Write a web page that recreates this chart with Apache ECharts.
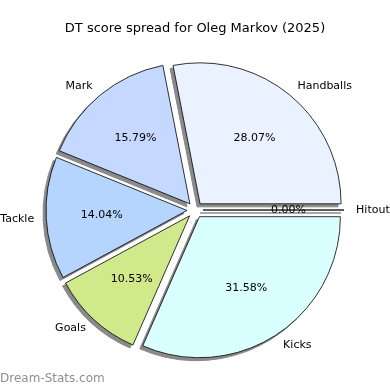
<!DOCTYPE html>
<html>
<head>
<meta charset="utf-8">
<script src="https://cdn.jsdelivr.net/npm/echarts@6/dist/echarts.min.js"></script>
<style>html,body{margin:0;padding:0;background:#fff}#c{width:390px;height:390px}</style>
</head>
<body>
<div id="c"></div>
<script>
const categories = ['Handballs', 'Mark', 'Tackle', 'Goals', 'Kicks', 'Hitout'];
const values = [16, 9, 8, 6, 18, 0];
const colors = ['#eaf1ff', '#c5d8ff', '#b5d5ff', '#d0ea8b', '#d9ffff', '#ffffff'];
const titleText = 'DT score spread for Oleg Markov (2025)';
const watermark = 'Dream-Stats.com';

const total = values.reduce((a, b) => a + b, 0);
const R = 141, CX = 195, CY = 210, OFF = 8;
const font = 'DejaVu Sans';

const pieData = categories.map((c, i) => ({
  name: c, value: values[i], selected: true,
  itemStyle: { color: colors[i] }
}));
const shadowData = categories.map((c, i) => ({
  name: c, value: values[i], selected: true
}));
const labelData = categories.map((c, i) => ({
  name: c, value: values[i], selected: true
}));

const common = {
  type: 'pie', startAngle: 0, clockwise: false,
  selectedMode: 'multiple', selectedOffset: OFF,
  avoidLabelOverlap: false, minShowLabelAngle: -1,
  emphasis: { disabled: true, scale: false }
};

const chart = echarts.init(document.getElementById('c'), null, { renderer: 'canvas' });
chart.setOption({
  animation: false,
  backgroundColor: '#ffffff',
  title: {
    text: titleText, left: 'center', top: 17,
    textStyle: { fontFamily: font, fontSize: 13, fontWeight: 'normal', color: '#000' }
  },
  graphic: [{
    type: 'text', left: 0, top: 373,
    style: { text: watermark, fontFamily: font, fontSize: 12, fontWeight: 'normal', fill: '#8f8f8f' }
  }],
  series: [
    Object.assign({}, common, {
      center: [CX - 3, CY + 3], radius: [0, R], silent: true, z: 1,
      itemStyle: { color: '#8a8a8a', borderColor: '#8a8a8a', borderWidth: 1 },
      label: { show: false }, labelLine: { show: false },
      data: shadowData
    }),
    Object.assign({}, common, {
      center: [CX, CY], radius: [0, R], z: 2,
      itemStyle: { borderColor: '#000', borderWidth: 0.8 },
      label: {
        show: true, position: 'outside', fontFamily: font, fontSize: 11, color: '#000',
        distanceToLabelLine: 0, formatter: '{b}'
      },
      labelLine: { show: false, length: R * 0.1 - 2, length2: 0 },
      data: pieData
    }),
    Object.assign({}, common, {
      center: [CX, CY], radius: [R * 0.17, R], silent: true, z: 3,
      itemStyle: { color: 'rgba(0,0,0,0)', borderWidth: 0 },
      label: {
        show: true, position: 'inside', fontFamily: font, fontSize: 11, color: '#000',
        formatter: p => (p.value / total * 100).toFixed(2) + '%'
      },
      labelLine: { show: false },
      data: labelData
    })
  ]
});
</script>
</body>
</html>
